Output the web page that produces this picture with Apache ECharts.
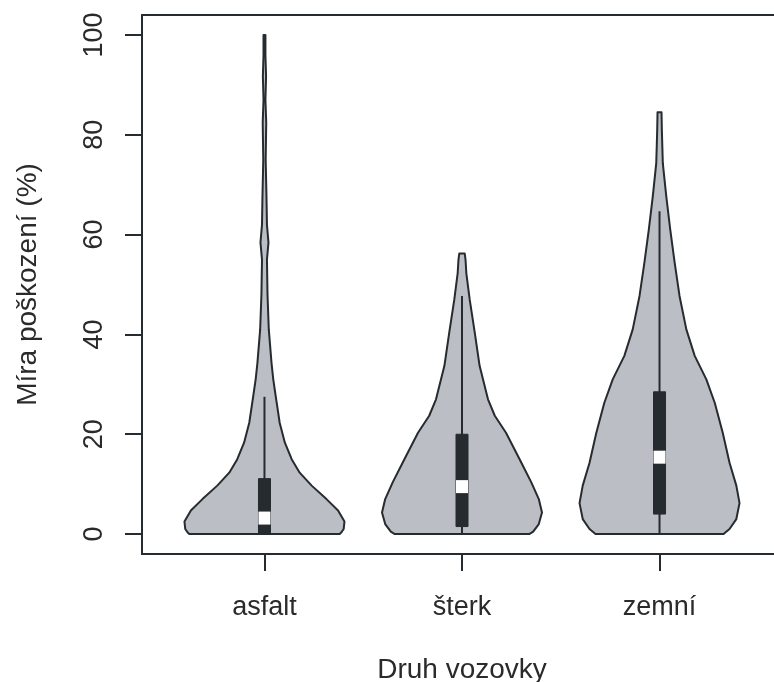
<!DOCTYPE html>
<html>
<head>
<meta charset="utf-8">
<script src="https://cdn.jsdelivr.net/npm/echarts@6/dist/echarts.min.js"></script>
<style>
  html, body { margin: 0; padding: 0; background: #ffffff; }
  #chart { width: 774px; height: 682px; }
</style>
</head>
<body>
<div id="chart"></div>
<script>
// Road surface types
const categories = ['asfalt', 'šterk', 'zemní'];

// Y-axis tick values
const yTicks = [0, 20, 40, 60, 80, 100];

// Kernel density outlines: damage level (%) and relative density (1 = widest point)
const asfaltLevels  = [0, 0.3, 1, 2.5, 4.7, 7, 9.7, 12.3, 15, 18.3, 22.3, 27.7, 31, 34.3, 41, 48, 55, 58.4, 62, 67.7, 75, 82.4, 87, 91.7, 96, 100];
const asfaltDensity = [0.94, 0.96, 0.99, 1.0, 0.92, 0.775, 0.59, 0.44, 0.34, 0.255, 0.19, 0.14, 0.11, 0.088, 0.054, 0.038, 0.031, 0.05, 0.031, 0.025, 0.015, 0.022, 0.012, 0.02, 0.012, 0.012];

const sterkLevels  = [0, 0.5, 2, 4.3, 7, 10.4, 15, 20.3, 23.7, 27, 33.7, 40.3, 47, 52.3, 55, 56.2];
const sterkDensity = [0.84, 0.89, 0.96, 1.0, 0.96, 0.865, 0.72, 0.55, 0.41, 0.325, 0.22, 0.16, 0.096, 0.054, 0.044, 0.034];

const zemniLevels  = [0, 1, 3, 6.2, 9.7, 14.3, 20.3, 26.3, 31, 35.7, 41, 47.7, 54.3, 61, 67.7, 74.3, 81, 84.5];
const zemniDensity = [0.8, 0.875, 0.96, 1.0, 0.96, 0.875, 0.79, 0.69, 0.585, 0.44, 0.335, 0.25, 0.19, 0.134, 0.084, 0.041, 0.029, 0.025];

// Box plot summaries per surface
const whiskerLow  = [0, 0, 0];
const quartile1   = [0.2, 1.5, 4.0];
const medians     = [3.2, 9.5, 15.4];
const quartile3   = [11.1, 20.0, 28.5];
const whiskerHigh = [27.5, 47.7, 64.7];

const profiles = [
  { levels: asfaltLevels, density: asfaltDensity },
  { levels: sterkLevels,  density: sterkDensity },
  { levels: zemniLevels,  density: zemniDensity }
];

const INK = '#252b2e';
const FILL = '#bbbfc5';
const HALF_WIDTH = 0.405;   // widest half-violin, in x-axis units
const BOX_PX = 12;           // box width in pixels
const MEDIAN_H = 13;         // median marker height in pixels
const FONT = '"Liberation Sans", Arial, Helvetica, sans-serif';
const X_MIN = 0.38, X_MAX = 3.62;

function renderViolin(params, api) {
  const i = params.dataIndex;
  const x0 = i + 1;
  const prof = profiles[i];
  const right = [], left = [];
  for (let k = 0; k < prof.levels.length; k++) {
    const w = prof.density[k] * HALF_WIDTH;
    right.push(api.coord([x0 + w, prof.levels[k]]));
    left.push(api.coord([x0 - w, prof.levels[k]]));
  }
  const outline = right.concat(left.reverse());

  const cx = api.coord([x0, 0])[0];
  const yLo = api.coord([x0, whiskerLow[i]])[1];
  const yHi = api.coord([x0, whiskerHigh[i]])[1];
  const yQ1 = api.coord([x0, quartile1[i]])[1];
  const yQ3 = api.coord([x0, quartile3[i]])[1];
  const yMed = api.coord([x0, medians[i]])[1];

  return {
    type: 'group',
    children: [
      {
        type: 'polygon',
        shape: { points: outline },
        style: { fill: FILL, stroke: INK, lineWidth: 2, lineJoin: 'round' }
      },
      {
        type: 'line',
        shape: { x1: cx, y1: yLo, x2: cx, y2: yHi },
        style: { stroke: INK, lineWidth: 2 }
      },
      {
        type: 'rect',
        shape: { x: cx - BOX_PX / 2, y: yQ3, width: BOX_PX, height: yQ1 - yQ3 },
        style: { fill: INK, stroke: INK, lineWidth: 1 }
      },
      {
        type: 'rect',
        shape: { x: cx - BOX_PX / 2, y: yMed - MEDIAN_H / 2, width: BOX_PX, height: MEDIAN_H },
        style: { fill: '#ffffff' }
      }
    ]
  };
}

const chart = echarts.init(document.getElementById('chart'), null, { renderer: 'canvas' });

const frameLine = { show: true, onZero: false, lineStyle: { color: INK, width: 2 } };

chart.setOption({
  animation: false,
  backgroundColor: '#ffffff',
  grid: {
    show: false,
    left: 142,
    top: 15,
    width: 640,
    height: 539,
    outerBoundsMode: 'none',
    containLabel: false
  },
  xAxis: [{
    type: 'value',
    min: X_MIN,
    max: X_MAX,
    position: 'bottom',
    name: 'Druh vozovky',
    nameLocation: 'middle',
    nameGap: 102,
    nameTextStyle: { fontSize: 28, color: '#2a2a2a', fontFamily: FONT },
    axisLine: frameLine,
    splitLine: { show: false },
    axisTick: {
      show: true,
      length: 17,
      customValues: [1, 2, 3],
      lineStyle: { color: INK, width: 2 }
    },
    axisLabel: {
      customValues: [1, 2, 3],
      margin: 40,
      fontSize: 27,
      color: '#2a2a2a',
      fontFamily: FONT,
      formatter: function (v) { return categories[Math.round(v) - 1]; }
    }
  }, {
    // top edge of the plot frame
    type: 'value',
    min: X_MIN,
    max: X_MAX,
    position: 'top',
    axisLine: frameLine,
    axisTick: { show: false },
    axisLabel: { show: false },
    splitLine: { show: false }
  }],
  yAxis: {
    type: 'value',
    min: -4,
    max: 104,
    name: 'Míra poškození (%)',
    nameLocation: 'middle',
    nameGap: 100,
    nameTextStyle: { fontSize: 28, color: '#2a2a2a', fontFamily: FONT },
    axisLine: frameLine,
    splitLine: { show: false },
    axisTick: {
      show: true,
      length: 17,
      customValues: yTicks,
      lineStyle: { color: INK, width: 2 }
    },
    axisLabel: {
      customValues: yTicks,
      rotate: 90,
      margin: 34,
      fontSize: 27,
      color: '#2a2a2a',
      fontFamily: FONT
    }
  },
  series: [{
    type: 'custom',
    renderItem: renderViolin,
    clip: false,
    xAxisIndex: 0,
    data: categories.map(function (c, i) { return [i + 1, medians[i]]; }),
    encode: { x: 0, y: 1 }
  }]
});
</script>
</body>
</html>
